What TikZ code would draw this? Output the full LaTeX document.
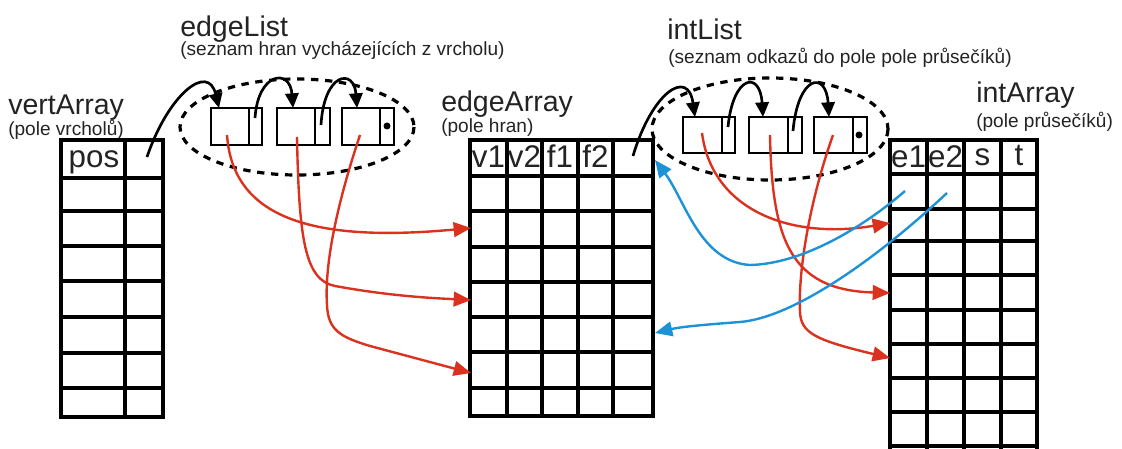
\documentclass[tikz,border=0pt]{standalone}
\usepackage{fontspec}
\setmainfont{Liberation Sans}
\usetikzlibrary{arrows.meta}
\definecolor{redc}{RGB}{218,50,30}
\definecolor{bluec}{RGB}{30,146,214}
\definecolor{txt}{RGB}{35,35,35}
\begin{document}
\begin{tikzpicture}[x=0.75pt,y=-0.75pt,
  tbl/.style={line width=2.3pt,line cap=rect},
  lbox/.style={line width=2.1pt},
  ell/.style={line width=2.4pt,dash pattern=on 5.5pt off 5pt},
  title/.style={anchor=base west,inner sep=0pt,text=txt,font=\fontsize{21.4}{24}\selectfont},
  subtitle/.style={anchor=base west,inner sep=0pt,text=txt,font=\fontsize{14.3}{16}\selectfont},
  head/.style={anchor=base,inner sep=0pt,text=txt,font=\fontsize{23.5}{27}\selectfont},
  ptr/.style={line width=2pt,-{Triangle[length=11pt,width=10pt]}},
  redarr/.style={line width=1.8pt,redc,-{Triangle[length=13pt,width=11pt]}},
  bluearr/.style={line width=1.8pt,bluec,-{Triangle[length=13pt,width=11pt]}}]
\useasboundingbox (0,0) rectangle (1122,449);

% ---------- titles ----------
\node[title] (tva) at (8,115) {vertArray};
\node[subtitle] (sva) at (8,136) {(pole vrcholů)};
\node[title] (tel) at (180,37) {edgeList};
\node[subtitle] (sel) at (180,56) {(seznam hran vycházejících z vrcholu)};
\node[title] (tea) at (441,112) {edgeArray};
\node[subtitle] (sea) at (441,133) {(pole hran)};
\node[title] (til) at (667,40) {intList};
\node[subtitle] (sil) at (668,64) {(seznam odkazů do pole pole průsečíků)};
\node[title] (tia) at (976,103) {intArray};
\node[subtitle] (sia) at (976,128) {(pole průsečíků)};

% ---------- vertArray table ----------
\draw[tbl] (61,140) rectangle (163,417);
\draw[tbl] (125,140) -- (125,417);
\foreach \y in {178,211,246,281,317,353,388} \draw[tbl] (61,\y) -- (163,\y);
\node[head] (hpos) at (94,168) {pos};

% ---------- edgeArray table ----------
\draw[tbl] (470,140) rectangle (653,416);
\foreach \x in {507,542,578,613} \draw[tbl] (\x,140) -- (\x,416);
\foreach \y in {176,211,247,282,317,352,388} \draw[tbl] (470,\y) -- (653,\y);
\node[head] (hv1) at (488.5,168) {v1};
\node[head] (hv2) at (524.5,168) {v2};
\node[head] (hf1) at (560,168) {f1};
\node[head] (hf2) at (595.5,168) {f2};

% ---------- intArray table ----------
\draw[tbl] (890,455) -- (890,140) -- (1037,140) -- (1037,455);
\foreach \x in {927,964,1001} \draw[tbl] (\x,140) -- (\x,455);
\foreach \y in {174,209,241,275,310,344,378,412,446} \draw[tbl] (890,\y) -- (1037,\y);
\node[head] (he1) at (908.5,168) {e1};
\node[head] (he2) at (945.5,168) {e2};
\node[head] (hs) at (982.5,166) {s};
\node[head] (ht) at (1019,166) {t};

% ---------- dashed ellipses ----------
\draw[ell] (297,127) ellipse [x radius=117, y radius=48];
\draw[ell] (770,129) ellipse [x radius=118, y radius=51];

% ---------- edgeList boxes ----------
\draw[lbox] (211,108) rectangle (262,145); \draw[lbox] (249,108) -- (249,145);
\draw[lbox] (277,108) rectangle (330,145); \draw[lbox] (315,108) -- (315,145);
\draw[lbox] (342,108) rectangle (394,145); \draw[lbox] (380,108) -- (380,145);
\fill (387,126) circle [radius=3.5];

% ---------- intList boxes ----------
\draw[lbox] (683,117) rectangle (735,153); \draw[lbox] (722,117) -- (722,153);
\draw[lbox] (749,117) rectangle (802,153); \draw[lbox] (788,117) -- (788,153);
\draw[lbox] (814,117) rectangle (867,153); \draw[lbox] (853,117) -- (853,153);
\fill (859,135) circle [radius=3.5];

% ---------- named points ----------
\coordinate (vaP) at (147,157);
\coordinate (el1in) at (219,108);
\coordinate (el1P) at (255,118);
\coordinate (el2in) at (293,108);
\coordinate (el2P) at (321,125);
\coordinate (el3in) at (357,108);
\coordinate (eaP) at (633,156);
\coordinate (il1in) at (695,117);
\coordinate (il1P) at (728,127);
\coordinate (il2in) at (763,117);
\coordinate (il2P) at (793,131);
\coordinate (il3in) at (829,117);
\coordinate (el1d) at (227,135);
\coordinate (el2d) at (297,137);
\coordinate (el3d) at (360,135);
\coordinate (il1d) at (702,133);
\coordinate (il2d) at (770,135);
\coordinate (il3d) at (833,135);
\coordinate (eaR2) at (471,228);
\coordinate (eaR4) at (471,300);
\coordinate (eaR6) at (471,373);
\coordinate (iaR2) at (890,223);
\coordinate (iaR4) at (890,293);
\coordinate (iaR6) at (890,358);
\coordinate (ia1) at (905,191);
\coordinate (ia2) at (947,193);
\coordinate (eaT) at (655,160);
\coordinate (eaB) at (655,333);

% ---------- black pointer arrows ----------
\draw[ptr] (vaP) .. controls (168,95) and (208,62) .. (el1in);
\draw[ptr] (el1P) .. controls (258,72) and (290,68) .. (el2in);
\draw[ptr] (el2P) .. controls (324,72) and (354,68) .. (el3in);
\draw[ptr] (eaP) .. controls (652,92) and (688,68) .. (il1in);
\draw[ptr] (il1P) .. controls (733,75) and (760,70) .. (il2in);
\draw[ptr] (il2P) .. controls (798,75) and (826,70) .. (il3in);

% ---------- red arrows ----------
\draw[redarr] (el1d) .. controls (233,222) and (320,242) .. (eaR2);
\draw[redarr] (el2d) .. controls (299,240) and (305,280) .. (335,286) .. controls (390,296) and (430,298) .. (eaR4);
\draw[redarr] (el3d) .. controls (340,195) and (324,260) .. (327,305) .. controls (328,330) and (340,337) .. (370,346) -- (eaR6);
\draw[redarr] (il1d) .. controls (712,210) and (790,240) .. (iaR2);
\draw[redarr] (il2d) .. controls (772,240) and (790,290) .. (iaR4);
\draw[redarr] (il3d) .. controls (810,200) and (798,270) .. (800,312) .. controls (801,333) and (815,340) .. (iaR6);

% ---------- blue arrows ----------
\draw[bluearr] (ia1) .. controls (860,230) and (800,264) .. (750,265) .. controls (700,262) and (685,200) .. (eaT);
\draw[bluearr] (ia2) .. controls (870,265) and (790,318) .. (740,322) .. controls (700,325) and (680,327) .. (eaB);
\end{tikzpicture}
\end{document}
